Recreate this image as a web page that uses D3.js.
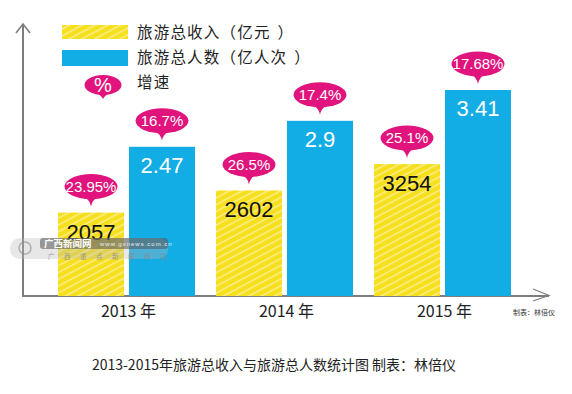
<!DOCTYPE html>
<html>
<head>
<meta charset="utf-8">
<script src="https://cdn.jsdelivr.net/npm/d3@7"></script>
<style>
  body { margin: 0; background: #fff; }
  text { font-family: "Liberation Sans", Arial, sans-serif; }
  .cjk { font-family: "Noto Sans CJK SC", sans-serif; }
</style>
</head>
<body>
<div id="chart"></div>
<script>
var years = ["2013", "2014", "2015"];
var income = [2057, 2602, 3254];          // 亿元
var visitors = [2.47, 2.9, 3.41];         // 亿人次
var incomeGrowth = ["23.95%", "26.5%", "25.1%"];
var visitorGrowth = ["16.7%", "17.4%", "17.68%"];
var seriesNames = ["旅游总收入（亿元）", "旅游总人数（亿人次）", "增速"];

var width = 572, height = 394;
var baseY = 296;
var yellow = "#f6df1c", blue = "#13ade6", pink = "#e0147c", axisGrey = "#7d7d7d";

var svg = d3.select("#chart")
  .append("svg")
    .attr("width", width)
    .attr("height", height);

// striped fill for the income bars
var defs = svg.append("defs");
var pat = defs.append("pattern")
    .attr("id", "stripes")
    .attr("patternUnits", "userSpaceOnUse")
    .attr("width", 6)
    .attr("height", 6)
    .attr("patternTransform", "rotate(-28)");
pat.append("rect").attr("width", 6).attr("height", 6).attr("fill", yellow);
pat.append("rect").attr("width", 6).attr("height", 1.5).attr("fill", "#fbee8c");

var x = d3.scaleBand()
  .domain(years)
  .range([58, 511])
  .paddingInner(0.133);

var xSub = d3.scaleBand()
  .domain(["income", "visitors"])
  .range([0, x.bandwidth()])
  .paddingInner(0.07);

var yIncome = d3.scaleLinear().domain([0, 7300]).range([baseY, 0]);
var yVisitors = d3.scaleLinear().domain([0, 4.9]).range([baseY, 0]);

// axes with open arrow heads
var axes = svg.append("g")
  .attr("stroke", axisGrey)
  .attr("stroke-width", 2)
  .attr("fill", "none");
axes.append("path").attr("d", "M23,24 V" + baseY + " H549");
axes.append("path").attr("d", "M16,33 L23,24 L30,33").attr("stroke-width", 1.6);
axes.append("path").attr("d", "M533,289 L549,295.5 L533,301").attr("stroke-width", 1.2);

function bubble(g, cx, tip, label, rx, ry, tail, size) {
  var cy = tip - ry - tail;
  g.append("path")
    .attr("d", "M" + (cx - 8) + "," + (cy + ry - 3) +
               " Q" + (cx - 1) + "," + (cy + ry + 1) + " " + cx + "," + tip +
               " Q" + (cx + 1) + "," + (cy + ry + 1) + " " + (cx + 8) + "," + (cy + ry - 3) + "Z")
    .attr("fill", pink);
  g.append("ellipse")
    .attr("cx", cx).attr("cy", cy)
    .attr("rx", rx).attr("ry", ry)
    .attr("fill", pink);
  g.append("text")
    .attr("x", cx)
    .attr("y", cy + size * 0.36)
    .attr("text-anchor", "middle")
    .attr("fill", "#fff")
    .style("font-size", size + "px")
    .text(label);
}

var groups = svg.selectAll(".year")
  .data(years)
  .enter()
  .append("g")
    .attr("class", "year")
    .attr("transform", function(d) { return "translate(" + x(d) + ",0)"; });

// income bars
groups.append("rect")
  .attr("x", xSub("income"))
  .attr("y", function(d, i) { return yIncome(income[i]); })
  .attr("width", xSub.bandwidth())
  .attr("height", function(d, i) { return baseY - yIncome(income[i]); })
  .attr("fill", "url(#stripes)");

// visitor bars
groups.append("rect")
  .attr("x", xSub("visitors"))
  .attr("y", function(d, i) { return yVisitors(visitors[i]); })
  .attr("width", xSub.bandwidth())
  .attr("height", function(d, i) { return baseY - yVisitors(visitors[i]); })
  .attr("fill", blue);

groups.append("text")
  .attr("x", xSub("income") + xSub.bandwidth() / 2)
  .attr("y", function(d, i) { return yIncome(income[i]) + 27; })
  .attr("text-anchor", "middle")
  .attr("fill", "#111")
  .style("font-size", "22px")
  .text(function(d, i) { return income[i]; });

groups.append("text")
  .attr("x", xSub("visitors") + xSub.bandwidth() / 2)
  .attr("y", function(d, i) { return yVisitors(visitors[i]) + 26; })
  .attr("text-anchor", "middle")
  .attr("fill", "#fff")
  .style("font-size", "22px")
  .text(function(d, i) { return visitors[i]; });

groups.each(function(d, i) {
  var g = d3.select(this);
  bubble(g, xSub("income") + xSub.bandwidth() / 2, yIncome(income[i]) - 6, incomeGrowth[i], 26.5, 12.5, 7.5, 15);
  bubble(g, xSub("visitors") + xSub.bandwidth() / 2, yVisitors(visitors[i]) - 6, visitorGrowth[i], 26.5, 12.5, 7.5, 15);
});

// year labels
groups.append("text")
  .attr("class", "cjk")
  .attr("x", x.bandwidth() / 2 + 2)
  .attr("y", 317)
  .attr("text-anchor", "middle")
  .attr("fill", "#222")
  .style("font-size", "16px")
  .text(function(d) { return d + " 年"; });

// legend
var legend = svg.append("g");
legend.append("rect").attr("x", 62).attr("y", 25).attr("width", 66).attr("height", 14).attr("fill", "url(#stripes)");
legend.append("rect").attr("x", 62).attr("y", 50).attr("width", 66).attr("height", 16).attr("fill", blue);
bubble(legend, 103, 99, "%", 18.5, 10, 4, 20);
// one x per glyph so the wide letter spacing of the original holds;
// the closing bracket sits a little further out, as in the original
var legendStep = 16.7;
legend.selectAll(".lt")
  .data(seriesNames)
  .enter()
  .append("text")
    .attr("class", "cjk")
    .attr("x", function(d) {
      return Array.from(d).map(function(c, k) {
        var shift = c === "）" ? 7 : 0;
        return (137 + k * legendStep + shift).toFixed(1);
      }).join(" ");
    })
    .attr("y", function(d, i) { return 38 + i * 25; })
    .attr("fill", "#222")
    .style("font-size", "15.5px")
    .text(function(d) { return d; });

// small credit
svg.append("text")
  .attr("class", "cjk")
  .attr("x", 513).attr("y", 315)
  .attr("fill", "#333")
  .style("font-size", "7px")
  .text("制表：林倍仪");

// watermark
var wm = svg.append("g");
wm.append("rect").attr("x", 10).attr("y", 238).attr("width", 158).attr("height", 21).attr("rx", 10)
  .attr("fill", "#bbbbbb").attr("opacity", 0.35);
wm.append("rect").attr("x", 40).attr("y", 238).attr("width", 128).attr("height", 11).attr("rx", 3)
  .attr("fill", "#555").attr("opacity", 0.55);
wm.append("circle").attr("cx", 25).attr("cy", 248).attr("r", 6).attr("fill", "none")
  .attr("stroke", "#888").attr("stroke-width", 1.5).attr("opacity", 0.6);
wm.append("text").attr("class", "cjk").attr("x", 44).attr("y", 247)
  .attr("fill", "#fff").style("font-size", "9.5px").style("font-weight", "bold").text("广西新闻网");
wm.append("text").attr("x", 100).attr("y", 246)
  .attr("fill", "#eee").style("font-size", "6px").style("letter-spacing", "1px").text("www.gxnews.com.cn");
wm.append("text").attr("class", "cjk").attr("x", 48).attr("y", 259)
  .attr("fill", "#888").attr("opacity", 0.8).style("font-size", "6.5px").style("letter-spacing", "9.5px")
  .text("广西重点新闻网站");

// caption
svg.append("text")
  .attr("class", "cjk")
  .attr("x", 274).attr("y", 370)
  .attr("text-anchor", "middle")
  .attr("fill", "#222")
  .style("font-size", "14px")
  .text("2013-2015年旅游总收入与旅游总人数统计图 制表：林倍仪");
</script>
</body>
</html>
